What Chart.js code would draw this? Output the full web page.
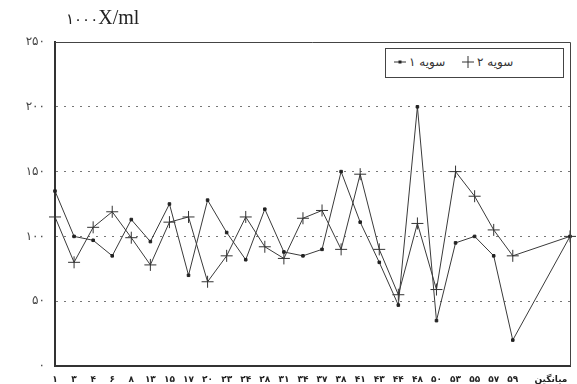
<!DOCTYPE html>
<html>
<head>
<meta charset="utf-8">
<script src="https://cdn.jsdelivr.net/npm/chart.js@4/dist/chart.umd.min.js"></script>
<style>
body { margin: 0; background: #fff; }
#wrap { position: relative; width: 577px; height: 384px; }
#title { position: absolute; left: 66px; top: 6px; color: #222; white-space: nowrap; }
#title .fa { font: 15px "DejaVu Sans", sans-serif; letter-spacing: 1px; }
#title .en { font: 20px "Liberation Serif", "DejaVu Serif", serif; }
#legend { position: absolute; left: 385px; top: 48px; width: 177px; height: 28px;
    border: 1px solid #444; background: #fff; font: 12px "DejaVu Sans", sans-serif; color: #333; }
#legend .item { position: absolute; top: 6px; display: flex; align-items: center; }
#legend .mark { width: 12px; height: 12px; position: relative; margin-right: 3px; }
</style>
</head>
<body>
<div id="wrap">
    <canvas id="myChart" width="577" height="384"></canvas>
    <div id="title"><span class="fa">۱۰۰۰</span><span class="en">X/ml</span></div>
    <div id="legend">
        <div class="item" style="left:8px">
            <svg class="mark" viewBox="0 0 12 12"><line x1="0" y1="6" x2="12" y2="6" stroke="#333" stroke-width="1"/><rect x="4.5" y="4.5" width="3" height="3" fill="#222"/></svg>
            <span dir="rtl">سویه ۱</span>
        </div>
        <div class="item" style="left:76px">
            <svg class="mark" viewBox="0 0 12 12"><line x1="0" y1="6" x2="12" y2="6" stroke="#333"/><line x1="6" y1="0" x2="6" y2="12" stroke="#333"/></svg>
            <span dir="rtl">سویه ۲</span>
        </div>
    </div>
</div>
<script>
// data
const sampleLabels = ["۱", "۳", "۴", "۶", "۸", "۱۳", "۱۵", "۱۷", "۲۰", "۲۳", "۲۴", "۲۸", "۳۱",
    "۳۴", "۳۷", "۳۸", "۴۱", "۴۳", "۴۴", "۴۸", "۵۰", "۵۳", "۵۵", "۵۷", "۵۹", "", "میانگین", ""];
const strain1 = [135, 100, 97, 85, 113, 96, 125, 70, 128, 103, 82, 121, 88,
    85, 90, 150, 111, 80, 47, 200, 35, 95, 100, 85, 20, null, null, 100];
const strain2 = [115, 80, 107, 119, 99, 78, 111, 115, 65, 85, 115, 92, 83,
    114, 120, 90, 148, 90, 55, 110, 59, 150, 131, 105, 85, null, null, 100];
const yTickLabels = ["۰", "۵۰", "۱۰۰", "۱۵۰", "۲۰۰", "۲۵۰"];

// frame round the plot
const frame = {
    id: "frame",
    afterDraw(chart) {
        const { ctx, chartArea: a } = chart;
        ctx.save();
        ctx.strokeStyle = "#444";
        ctx.lineWidth = 1;
        ctx.beginPath();
        ctx.moveTo(a.left, a.top + 0.5);
        ctx.lineTo(a.right + 0.5, a.top + 0.5);
        ctx.lineTo(a.right + 0.5, a.bottom);
        ctx.stroke();
        ctx.restore();
    },
};

const ctx = document.getElementById("myChart").getContext("2d");

new Chart(ctx, {
    type: "line",
    data: {
        labels: sampleLabels,
        datasets: [
            {
                label: "سویه ۱",
                data: strain1,
                borderColor: "#3a3a3a",
                borderWidth: 1,
                pointStyle: "rect",
                pointRadius: 1.8,
                pointBackgroundColor: "#222",
                pointBorderColor: "#222",
                spanGaps: true,
                tension: 0,
            },
            {
                label: "سویه ۲",
                data: strain2,
                borderColor: "#3a3a3a",
                borderWidth: 1,
                pointStyle: "cross",
                pointRadius: 6,
                pointBorderWidth: 1,
                pointBorderColor: "#333",
                spanGaps: true,
                tension: 0,
            },
        ],
    },
    options: {
        responsive: false,
        animation: false,
        layout: { padding: { top: 42, right: 5, left: 0, bottom: 0 } },
        scales: {
            x: {
                offset: false,
                grid: { display: false },
                border: { display: true, color: "#333", width: 2 },
                ticks: {
                    autoSkip: false,
                    maxRotation: 0,
                    padding: 0,
                    color: "#222",
                    font: { family: "DejaVu Sans", size: 9, weight: "bold" },
                },
                afterFit(scale) { scale.height = 18; },
            },
            y: {
                min: 0,
                max: 250,
                grid: {
                    drawTicks: false,
                    color: (c) => (c.tick && (c.tick.value === 0 || c.tick.value === 250) ? "rgba(0,0,0,0)" : "#777"),
                },
                border: { display: true, color: "#333", width: 2, dash: [2, 6] },
                ticks: {
                    stepSize: 50,
                    padding: 10,
                    color: "#444",
                    font: { family: "DejaVu Sans", size: 12 },
                    callback: function (value, index) {
                        return yTickLabels[index];
                    },
                },
                afterFit(scale) { scale.width = 55; },
            },
        },
        plugins: {
            legend: { display: false },
            tooltip: { enabled: false },
        },
    },
    plugins: [frame],
});
</script>
</body>
</html>
